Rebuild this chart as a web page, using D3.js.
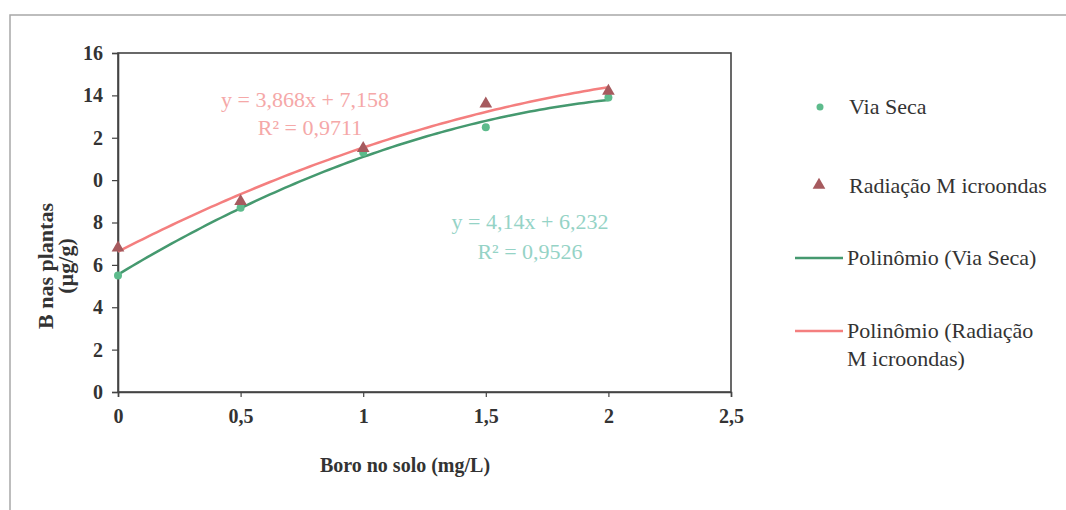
<!DOCTYPE html>
<html>
<head>
<meta charset="utf-8">
<script src="https://d3js.org/d3.v7.min.js"></script>
<style>
body { margin: 0; background: #fff; }
text { font-family: "Liberation Serif", "Times New Roman", serif; }
</style>
</head>
<body>
<svg id="chart" width="1066" height="510"></svg>
<script>
// data
var doses = [0, 0.5, 1, 1.5, 2]
var viaSeca = [5.5, 8.7, 11.3, 12.5, 13.9]
var microondas = [6.8, 9.0, 11.5, 13.6, 14.2]
var xTicks = [0, 0.5, 1, 1.5, 2, 2.5]
var xTickLabels = ["0", "0,5", "1", "1,5", "2", "2,5"]
var yTicks = [0, 2, 4, 6, 8, 10, 12, 14, 16]
var yTickLabels = ["0", "2", "4", "6", "8", "0", "2", "14", "16"]
var eqSeca = ["y = 4,14x + 6,232", "R² = 0,9526"]
var eqMicro = ["y = 3,868x + 7,158", "R² = 0,9711"]

var svg = d3.select("#chart")
var plotLeft = 118, plotTop = 53, plotRight = 731, plotBottom = 392

var x = d3.scaleLinear().domain([0, 2.5]).range([plotLeft, plotRight])
var y = d3.scaleLinear().domain([0, 16]).range([plotBottom, plotTop])

// outer frame of the scanned figure
svg.append("rect").attr("x", 10).attr("y", 15).attr("width", 1100).attr("height", 600)
    .style("fill", "none").style("stroke", "#a8a8a8").style("stroke-width", 1.5)

// plot box
svg.append("rect").attr("x", plotLeft).attr("y", plotTop)
    .attr("width", plotRight - plotLeft).attr("height", plotBottom - plotTop)
    .style("fill", "none").style("stroke", "#444").style("stroke-width", 1.6)

var xAxis = svg.append("g").attr("transform", "translate(0," + plotBottom + ")")
    .call(d3.axisBottom(x).tickValues(xTicks).tickSize(5).tickPadding(12)
        .tickFormat(function(d, i) { return xTickLabels[i] }))
var yAxis = svg.append("g").attr("transform", "translate(" + plotLeft + ",0)")
    .call(d3.axisLeft(y).tickValues(yTicks).tickSize(6).tickPadding(9)
        .tickFormat(function(d, i) { return yTickLabels[i] }))
svg.selectAll(".domain").style("stroke", "#444").style("stroke-width", 1.6)
svg.selectAll(".tick line").style("stroke", "#444").style("stroke-width", 1.2)
svg.selectAll(".tick text")
    .style("font-family", "'Liberation Serif', serif")
    .style("font-weight", "bold").style("font-size", "20px").style("fill", "#333")

// axis titles
svg.append("text").attr("x", 405).attr("y", 472).attr("text-anchor", "middle")
    .style("font-weight", "bold").style("font-size", "20px").style("fill", "#333")
    .text("Boro no solo (mg/L)")
var ytitle = svg.append("text").attr("transform", "translate(53,266) rotate(-90)")
    .attr("text-anchor", "middle").style("font-weight", "bold").style("font-size", "22px").style("fill", "#333")
ytitle.append("tspan").attr("x", 0).attr("dy", 0).text("B nas plantas")
ytitle.append("tspan").attr("x", 0).attr("dy", 20).text("(µg/g)")

// quadratic least squares, like the spreadsheet's trendline
function quadFit(xs, ys) {
    var n = xs.length, s = [0, 0, 0, 0, 0], t = [0, 0, 0]
    for (let i = 0; i < n; i++) {
        for (let k = 0; k < 5; k++) s[k] += Math.pow(xs[i], k)
        for (let k = 0; k < 3; k++) t[k] += ys[i] * Math.pow(xs[i], k)
    }
    var m = [[s[0], s[1], s[2], t[0]], [s[1], s[2], s[3], t[1]], [s[2], s[3], s[4], t[2]]]
    for (let i = 0; i < 3; i++) {
        for (let j = i + 1; j < 3; j++) {
            let f = m[j][i] / m[i][i]
            for (let k = i; k < 4; k++) m[j][k] -= f * m[i][k]
        }
    }
    var c = [0, 0, 0]
    for (let i = 2; i >= 0; i--) {
        let v = m[i][3]
        for (let k = i + 1; k < 3; k++) v -= m[i][k] * c[k]
        c[i] = v / m[i][i]
    }
    return function(v) { return c[0] + c[1] * v + c[2] * v * v }
}

var line = d3.line().x(function(d) { return x(d[0]) }).y(function(d) { return y(d[1]) })
var steps = d3.range(0, 2.0001, 0.02)
var fitSeca = quadFit(doses, viaSeca)
var fitMicro = quadFit(doses, microondas)

svg.append("path").datum(steps.map(function(v) { return [v, fitSeca(v)] }))
    .attr("d", line).style("fill", "none").style("stroke", "#45996f").style("stroke-width", 2.5)
svg.append("path").datum(steps.map(function(v) { return [v, fitMicro(v)] }))
    .attr("d", line).style("fill", "none").style("stroke", "#f47f7f").style("stroke-width", 2.5)

// points
svg.selectAll(".seca").data(doses).enter().append("circle").attr("class", "seca")
    .attr("cx", function(d) { return x(d) }).attr("cy", function(d, i) { return y(viaSeca[i]) })
    .attr("r", 4).style("fill", "#5dbb8c")
var tri = d3.symbol().type(d3.symbolTriangle).size(70)
svg.selectAll(".micro").data(doses).enter().append("path").attr("class", "micro")
    .attr("d", tri)
    .attr("transform", function(d, i) { return "translate(" + x(d) + "," + y(microondas[i]) + ")" })
    .style("fill", "#a65a5e")

// equations
var eqs = svg.append("g").attr("text-anchor", "middle").style("font-size", "22px")
eqs.append("text").attr("x", 305).attr("y", 107).style("fill", "#f5a8a8").text(eqMicro[0])
eqs.append("text").attr("x", 310).attr("y", 135).style("fill", "#f5a8a8").text(eqMicro[1])
eqs.append("text").attr("x", 530).attr("y", 229).style("fill", "#95d3c6").text(eqSeca[0])
eqs.append("text").attr("x", 530).attr("y", 259).style("fill", "#95d3c6").text(eqSeca[1])

// legend
var lg = svg.append("g").style("font-size", "22px").style("fill", "#333")
lg.append("circle").attr("cx", 820).attr("cy", 107).attr("r", 3.5).style("fill", "#5dbb8c")
lg.append("text").attr("x", 849).attr("y", 114).text("Via Seca")
lg.append("path").attr("d", tri).attr("transform", "translate(819,185)").style("fill", "#a65a5e")
lg.append("text").attr("x", 849).attr("y", 193).text("Radiação M icroondas")
lg.append("line").attr("x1", 795).attr("x2", 843).attr("y1", 258).attr("y2", 258)
    .style("stroke", "#45996f").style("stroke-width", 2.5)
lg.append("text").attr("x", 847).attr("y", 265).text("Polinômio (Via Seca)")
lg.append("line").attr("x1", 795).attr("x2", 843).attr("y1", 331).attr("y2", 331)
    .style("stroke", "#f47f7f").style("stroke-width", 2.5)
lg.append("text").attr("x", 847).attr("y", 338).text("Polinômio (Radiação")
lg.append("text").attr("x", 847).attr("y", 366).text("M icroondas)")
</script>
</body>
</html>
